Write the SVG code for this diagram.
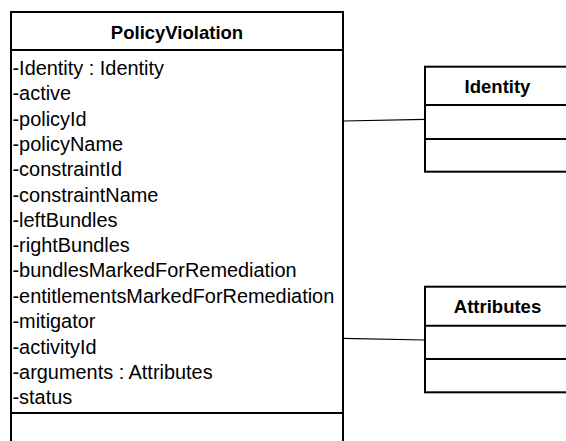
<svg xmlns="http://www.w3.org/2000/svg" width="566" height="441" viewBox="0 0 566 441">
  <style>
    .box { fill: #ffffff; stroke: #000000; stroke-width: 2; }
    .div { stroke: #000000; stroke-width: 2; fill: none; }
    .title { font-family: "Liberation Sans", Arial, sans-serif; font-weight: bold; font-size: 18.5px; fill: #000000; text-anchor: middle; }
    .attr { font-family: "Liberation Sans", Arial, sans-serif; font-size: 19.9px; fill: #000000; }
    .link { stroke: #000000; stroke-width: 1.2; fill: none; }
  </style>

  <!-- associations -->
  <g id="connectors">
    <line class="link" x1="343" y1="121" x2="425" y2="119.3"/>
    <line class="link" x1="343" y1="338.3" x2="425" y2="340"/>
  </g>

  <!-- PolicyViolation class -->
  <g id="PolicyViolation">
    <path class="div" d="M11 445 V12 H343 V445"/>
    <line class="div" x1="11" y1="50" x2="343" y2="50"/>
    <line class="div" x1="11" y1="413" x2="343" y2="413"/>
    <text class="title" x="177" y="39">PolicyViolation</text>
    <g class="attr">
      <text x="12.5" y="75">-Identity : Identity</text>
      <text x="12.5" y="100.3">-active</text>
      <text x="12.5" y="125.6">-policyId</text>
      <text x="12.5" y="150.9">-policyName</text>
      <text x="12.5" y="176.2">-constraintId</text>
      <text x="12.5" y="201.5">-constraintName</text>
      <text x="12.5" y="226.8">-leftBundles</text>
      <text x="12.5" y="252.1">-rightBundles</text>
      <text x="12.5" y="277.4">-bundlesMarkedForRemediation</text>
      <text x="12.5" y="303">-entitlementsMarkedForRemediation</text>
      <text x="12.5" y="328.4">-mitigator</text>
      <text x="12.5" y="353.7">-activityId</text>
      <text x="12.5" y="379">-arguments : Attributes</text>
      <text x="12.5" y="404.3">-status</text>
    </g>
  </g>

  <!-- Identity class -->
  <g id="Identity">
    <rect class="box" x="425" y="66.7" width="150" height="105"/>
    <line class="div" x1="425" y1="105" x2="575" y2="105"/>
    <line class="div" x1="425" y1="139" x2="575" y2="139"/>
    <text class="title" x="497.5" y="92.7">Identity</text>
  </g>

  <!-- Attributes class -->
  <g id="Attributes">
    <rect class="box" x="425" y="286.7" width="150" height="105.6"/>
    <line class="div" x1="425" y1="325.7" x2="575" y2="325.7"/>
    <line class="div" x1="425" y1="359" x2="575" y2="359"/>
    <text class="title" x="497.5" y="312.7">Attributes</text>
  </g>
</svg>
